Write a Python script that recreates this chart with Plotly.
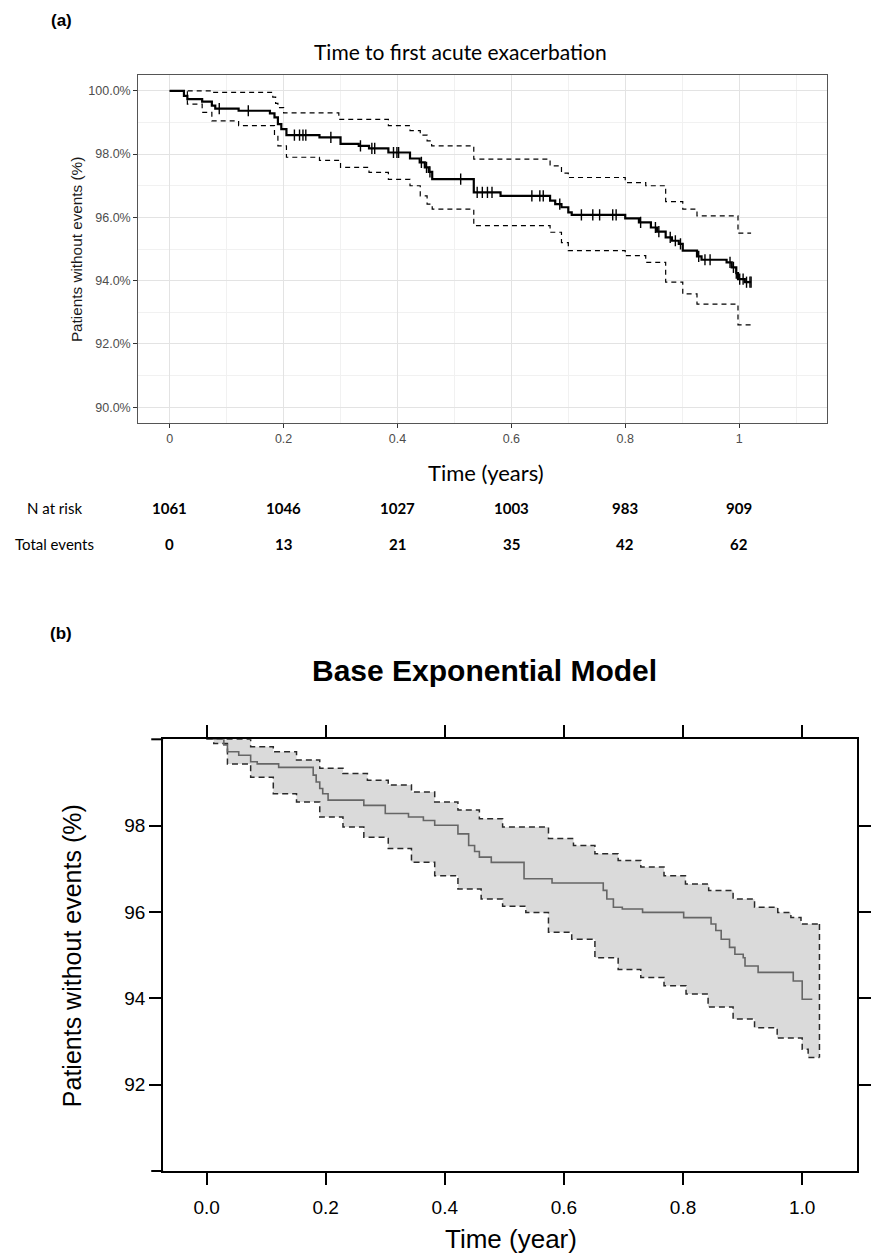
import numpy as np
import plotly.graph_objects as go

# ---------------- Panel (a): Kaplan-Meier, time to first acute exacerbation ----------------
km_t = [0, 0.025, 0.031, 0.057, 0.074, 0.080, 0.121, 0.176, 0.184, 0.190, 0.196, 0.205,
        0.263, 0.300, 0.332, 0.350, 0.384, 0.422, 0.439, 0.448, 0.455, 0.461, 0.534, 0.581,
        0.668, 0.677, 0.688, 0.700, 0.706, 0.800, 0.824, 0.845, 0.856, 0.871, 0.882, 0.894,
        0.901, 0.926, 0.934, 0.978, 0.987, 0.995, 0.998, 1.010, 1.021]
km_s = [100, 99.84, 99.74, 99.66, 99.53, 99.44, 99.37, 99.29, 99.16, 98.95, 98.79, 98.60,
        98.53, 98.32, 98.26, 98.18, 98.05, 97.86, 97.74, 97.58, 97.44, 97.21, 96.79, 96.68,
        96.53, 96.42, 96.32, 96.16, 96.08, 95.97, 95.84, 95.68, 95.55, 95.37, 95.26, 95.16,
        94.95, 94.77, 94.66, 94.58, 94.42, 94.24, 94.05, 93.95, 93.95]

up_t = [0, 0.071, 0.181, 0.186, 0.190, 0.200, 0.297, 0.384, 0.422, 0.440, 0.452, 0.460,
        0.534, 0.668, 0.688, 0.700, 0.800, 0.836, 0.871, 0.901, 0.926, 0.998, 1.021]
up_s = [100, 99.95, 99.8, 99.6, 99.47, 99.3, 99.1, 98.9, 98.74, 98.6, 98.42, 98.26,
        97.84, 97.63, 97.4, 97.26, 97.1, 97.0, 96.5, 96.26, 96.05, 95.5, 95.5]

lo_t = [0, 0.031, 0.057, 0.074, 0.121, 0.184, 0.190, 0.205, 0.263, 0.300, 0.350, 0.384,
        0.422, 0.440, 0.452, 0.461, 0.534, 0.668, 0.688, 0.700, 0.800, 0.836, 0.871, 0.901,
        0.926, 0.998, 1.021]
lo_s = [100, 99.58, 99.32, 99.05, 98.9, 98.6, 98.26, 97.9, 97.8, 97.58, 97.42, 97.2,
        97.0, 96.68, 96.42, 96.26, 95.74, 95.53, 95.2, 94.95, 94.79, 94.58, 93.95, 93.58,
        93.26, 92.6, 92.5]

cens_t = [0.087, 0.138, 0.219, 0.228, 0.234, 0.239, 0.283, 0.335, 0.355, 0.360, 0.393,
          0.399, 0.402, 0.442, 0.451, 0.457, 0.511, 0.540, 0.549, 0.558, 0.566, 0.636,
          0.650, 0.656, 0.685, 0.723, 0.743, 0.755, 0.778, 0.784, 0.827, 0.853, 0.859,
          0.879, 0.888, 0.897, 0.929, 0.940, 0.949, 0.984, 0.990, 0.995, 1.001, 1.007,
          1.013, 1.019, 1.021]

risk_times = [0, 0.2, 0.4, 0.6, 0.8, 1.0]
n_at_risk = [1061, 1046, 1027, 1003, 983, 909]
total_events = [0, 13, 21, 35, 42, 62]

a_xticks = [0, 0.2, 0.4, 0.6, 0.8, 1.0]
a_xticktext = ["0", "0.2", "0.4", "0.6", "0.8", "1"]
a_yticks = [90, 92, 94, 96, 98, 100]
a_yticktext = ["90.0%", "92.0%", "94.0%", "96.0%", "98.0%", "100.0%"]

# ---------------- Panel (b): Base exponential model ----------------
b_t = [0, 0.029, 0.035, 0.054, 0.074, 0.085, 0.121, 0.179, 0.184, 0.190, 0.195, 0.204,
       0.264, 0.300, 0.339, 0.364, 0.383, 0.422, 0.440, 0.450, 0.458, 0.478, 0.533, 0.580,
       0.666, 0.672, 0.683, 0.698, 0.732, 0.801, 0.847, 0.855, 0.864, 0.878, 0.887, 0.901,
       0.904, 0.926, 0.985, 1.000, 1.017]
b_s = [100, 99.87, 99.71, 99.63, 99.48, 99.43, 99.35, 99.17, 99.01, 98.86, 98.74, 98.59,
       98.47, 98.28, 98.20, 98.12, 98.01, 97.81, 97.54, 97.40, 97.27, 97.15, 96.77, 96.67,
       96.50, 96.30, 96.11, 96.07, 95.99, 95.87, 95.72, 95.57, 95.37, 95.18, 95.02, 94.94,
       94.75, 94.60, 94.40, 93.98, 93.98]

bu_t = [0, 0.074, 0.112, 0.151, 0.190, 0.229, 0.270, 0.305, 0.344, 0.383, 0.422, 0.458,
        0.497, 0.574, 0.616, 0.652, 0.691, 0.729, 0.768, 0.804, 0.843, 0.884, 0.920, 0.959,
        0.981, 0.998, 1.029]
bu_s = [100, 99.83, 99.71, 99.52, 99.33, 99.21, 99.05, 98.94, 98.78, 98.55, 98.36, 98.16,
        97.97, 97.70, 97.54, 97.35, 97.19, 97.04, 96.84, 96.65, 96.50, 96.30, 96.11, 95.99,
        95.87, 95.72, 95.72]

bl_t = [0, 0.012, 0.035, 0.074, 0.112, 0.151, 0.190, 0.229, 0.264, 0.305, 0.344, 0.383,
        0.422, 0.461, 0.497, 0.536, 0.574, 0.613, 0.652, 0.691, 0.729, 0.768, 0.805, 0.842,
        0.884, 0.920, 0.958, 1.000, 1.010, 1.029]
bl_s = [100, 99.9, 99.43, 99.12, 98.74, 98.55, 98.20, 97.97, 97.73, 97.47, 97.15, 96.84,
        96.53, 96.30, 96.13, 95.99, 95.53, 95.37, 94.94, 94.67, 94.48, 94.29, 94.10, 93.80,
        93.52, 93.32, 93.08, 92.82, 92.63, 92.63]

b_xticks = [0, 0.2, 0.4, 0.6, 0.8, 1.0]
b_xticktext = ["0.0", "0.2", "0.4", "0.6", "0.8", "1.0"]
b_yticks = [92, 94, 96, 98]
b_yticktext = ["92", "94", "96", "98"]

# ---------------- geometry helpers ----------------
W, H = 871, 1258
def px(x):
    return x / W
def py(y):
    return 1 - y / H

def step_at(t, T, S):
    T = np.asarray(T); S = np.asarray(S)
    idx = np.searchsorted(T, t, side="right") - 1
    return S[np.clip(idx, 0, len(S) - 1)]

SANS = "Liberation Sans, Arial, sans-serif"
CAL = "Lato, Carlito, Calibri, sans-serif"

fig = go.Figure()

# Panel (a) traces
fig.add_trace(go.Scatter(x=up_t, y=up_s, mode="lines", line_shape="hv",
                         line=dict(color="black", width=1.2, dash="5px,4px"),
                         xaxis="x", yaxis="y", hoverinfo="skip"))
fig.add_trace(go.Scatter(x=lo_t, y=lo_s, mode="lines", line_shape="hv",
                         line=dict(color="black", width=1.2, dash="5px,4px"),
                         xaxis="x", yaxis="y", hoverinfo="skip"))
fig.add_trace(go.Scatter(x=km_t, y=km_s, mode="lines", line_shape="hv",
                         line=dict(color="black", width=2.2),
                         xaxis="x", yaxis="y"))
fig.add_trace(go.Scatter(x=cens_t, y=step_at(cens_t, km_t, km_s), mode="markers",
                         marker=dict(symbol="line-ns", size=8,
                                     line=dict(color="black", width=1.4)),
                         xaxis="x", yaxis="y"))

# Panel (b) traces
fig.add_trace(go.Scatter(x=bu_t, y=bu_s, mode="lines", line_shape="hv",
                         line=dict(color="#2a2a2a", width=1.5, dash="6px,4px"),
                         xaxis="x2", yaxis="y2", hoverinfo="skip"))
fig.add_trace(go.Scatter(x=bl_t, y=bl_s, mode="lines", line_shape="hv",
                         line=dict(color="#2a2a2a", width=1.5, dash="6px,4px"),
                         fill="tonexty", fillcolor="#dadada",
                         xaxis="x2", yaxis="y2", hoverinfo="skip"))
fig.add_trace(go.Scatter(x=[bu_t[-1], bl_t[-1]], y=[bu_s[-1], bl_s[-1]], mode="lines",
                         line=dict(color="#2a2a2a", width=1.5, dash="6px,4px"),
                         xaxis="x2", yaxis="y2", hoverinfo="skip"))
fig.add_trace(go.Scatter(x=b_t, y=b_s, mode="lines", line_shape="hv",
                         line=dict(color="#666666", width=1.6),
                         xaxis="x2", yaxis="y2"))

fig.update_layout(
    width=W, height=H, margin=dict(l=0, r=0, t=0, b=0),
    paper_bgcolor="white", plot_bgcolor="white", showlegend=False,
    xaxis=dict(domain=[px(140), px(837)], range=[-0.055, 1.155], anchor="y",
               tickvals=a_xticks, ticktext=a_xticktext, ticks="outside", ticklen=4,
               tickcolor="#333333", tickfont=dict(family=SANS, size=12.5, color="#4d4d4d"),
               showgrid=True, gridcolor="#e3e3e3", gridwidth=1,
               minor=dict(dtick=0.1, showgrid=True, gridcolor="#f1f1f1", gridwidth=0.7),
               showline=True, linecolor="#555555", linewidth=1.3, mirror=True,
               zeroline=False),
    yaxis=dict(domain=[py(423), py(75)], range=[89.5, 100.5], anchor="x",
               tickvals=a_yticks, ticktext=a_yticktext, ticks="outside", ticklen=4,
               tickcolor="#333333", tickfont=dict(family=SANS, size=12.5, color="#4d4d4d"),
               showgrid=True, gridcolor="#e3e3e3", gridwidth=1,
               minor=dict(dtick=1, showgrid=True, gridcolor="#f1f1f1", gridwidth=0.7),
               showline=True, linecolor="#555555", linewidth=1.3, mirror=True,
               zeroline=False),
    xaxis2=dict(domain=[px(165), px(866.7)], range=[-0.073, 1.0916], anchor="y2",
                tickvals=b_xticks, ticktext=b_xticktext, ticks="outside", ticklen=12,
                tickwidth=1.5, tickcolor="black", ticklabelstandoff=6,
                tickfont=dict(family=SANS, size=19, color="black"),
                showgrid=False, showline=True, linecolor="black", linewidth=2,
                mirror="ticks", zeroline=False),
    yaxis2=dict(domain=[py(1171), py(739.3)], range=[90, 100], anchor="x2",
                tickvals=b_yticks, ticktext=b_yticktext, ticks="outside", ticklen=12,
                tickwidth=1.5, tickcolor="black",
                tickfont=dict(family=SANS, size=19, color="black"),
                showgrid=False, showline=True, linecolor="black", linewidth=2,
                mirror="ticks", zeroline=False),
    shapes=[
        dict(type="line", xref="paper", yref="paper", x0=px(153), x1=px(165),
             y0=py(1171), y1=py(1171), line=dict(color="black", width=2)),
        dict(type="line", xref="paper", yref="paper", x0=px(153), x1=px(165),
             y0=py(739.3), y1=py(739.3), line=dict(color="black", width=2)),
    ],
)

def note(text, x, y, family, size, color="black", angle=0, xref="paper"):
    return dict(text=text, x=x, y=y, xref=xref, yref="paper", showarrow=False,
                xanchor="center", yanchor="middle", textangle=angle,
                font=dict(family=family, size=size, color=color))

ann = []
ann.append(note("<b>(a)</b>", px(62), py(20), SANS, 17))
ann.append(note("Time to first acute exacerbation", px(466), py(51), CAL, 21))
ann.append(note("Patients without events (%)", px(78), py(250), SANS, 15.3,
                color="#1a1a1a", angle=-90))
ann.append(note("Time (years)", px(492), py(473), CAL, 22))
ann.append(note("N at risk", px(55), py(508), CAL, 15))
ann.append(note("Total events", px(55), py(544), CAL, 15))
for t, n, e in zip(risk_times, n_at_risk, total_events):
    ann.append(note("<b>%d</b>" % n, t, py(508), CAL, 15, xref="x"))
    ann.append(note("<b>%d</b>" % e, t, py(544), CAL, 15, xref="x"))
ann.append(note("<b>(b)</b>", px(62), py(633), SANS, 17))
ann.append(note("<b>Base Exponential Model</b>", px(490), py(670), SANS, 30))
ann.append(note("Patients without events (%)", px(73), py(956), SANS, 25, angle=-90))
ann.append(note("Time (year)", px(517), py(1239), SANS, 26))
fig.update_layout(annotations=ann)

fig.write_html("out.html")
